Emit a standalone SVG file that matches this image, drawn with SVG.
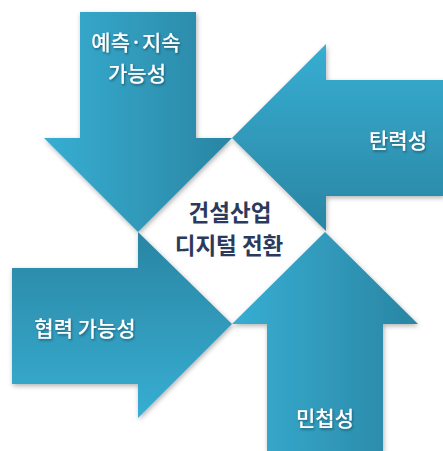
<svg xmlns="http://www.w3.org/2000/svg" width="443" height="451" viewBox="0 0 443 451">
<defs>
<linearGradient id="gH" x1="0" y1="0" x2="1" y2="0"><stop offset="0" stop-color="#37aed2"/><stop offset="1" stop-color="#2a85a3"/></linearGradient>
<linearGradient id="gV" x1="0" y1="0" x2="0" y2="1"><stop offset="0" stop-color="#37aed2"/><stop offset="1" stop-color="#2a85a3"/></linearGradient>
<linearGradient id="gVr" x1="0" y1="1" x2="0" y2="0"><stop offset="0" stop-color="#37aed2"/><stop offset="1" stop-color="#2a85a3"/></linearGradient>
<filter id="sh" x="-20%" y="-20%" width="140%" height="140%"><feDropShadow dx="1" dy="2" stdDeviation="2.5" flood-color="#000" flood-opacity="0.3"/></filter>
<filter id="ts" x="-10%" y="-20%" width="120%" height="150%"><feDropShadow dx="1" dy="1.5" stdDeviation="1" flood-color="#0a3a4a" flood-opacity="0.6"/></filter>
</defs>
<style>
.lbl{font-family:"Noto Sans CJK KR","Noto Sans",sans-serif;font-size:21px;font-weight:500;fill:#fff;text-anchor:middle;filter:url(#ts)}
.ctr{font-family:"Noto Sans CJK KR","Noto Sans",sans-serif;font-size:22.5px;font-weight:bold;fill:#2b3a5c;text-anchor:middle}
</style>
<rect width="443" height="451" fill="#fff"/>
<g id="arrow-top">
<polygon points="80,12 196,12 196,138 232,138 138,232 44,138 80,138" fill="url(#gH)" filter="url(#sh)"/>
<text class="lbl" x="136" y="50">예측·지속</text>
<text class="lbl" x="137" y="81">가능성</text>
</g>
<g id="arrow-right">
<polygon points="443,80 443,196 326,196 326,231 232,138 326,44 326,80" fill="url(#gV)" filter="url(#sh)"/>
<text class="lbl" x="398" y="148">탄력성</text>
</g>
<g id="arrow-left">
<polygon points="12,268 138,268 138,232 232,324 138,418 138,384 12,384" fill="url(#gVr)" filter="url(#sh)"/>
<text class="lbl" x="85" y="336">협력 가능성</text>
</g>
<g id="arrow-bottom">
<polygon points="267,451 267,324 232,324 325,232 418,324 383,324 383,451" fill="url(#gH)" filter="url(#sh)"/>
<text class="lbl" x="325" y="426">민첩성</text>
</g>
<g id="center">
<text class="ctr" x="230" y="221">건설산업</text>
<text class="ctr" x="229" y="254">디지털 전환</text>
</g>
<g id="connectors"/>
</svg>
